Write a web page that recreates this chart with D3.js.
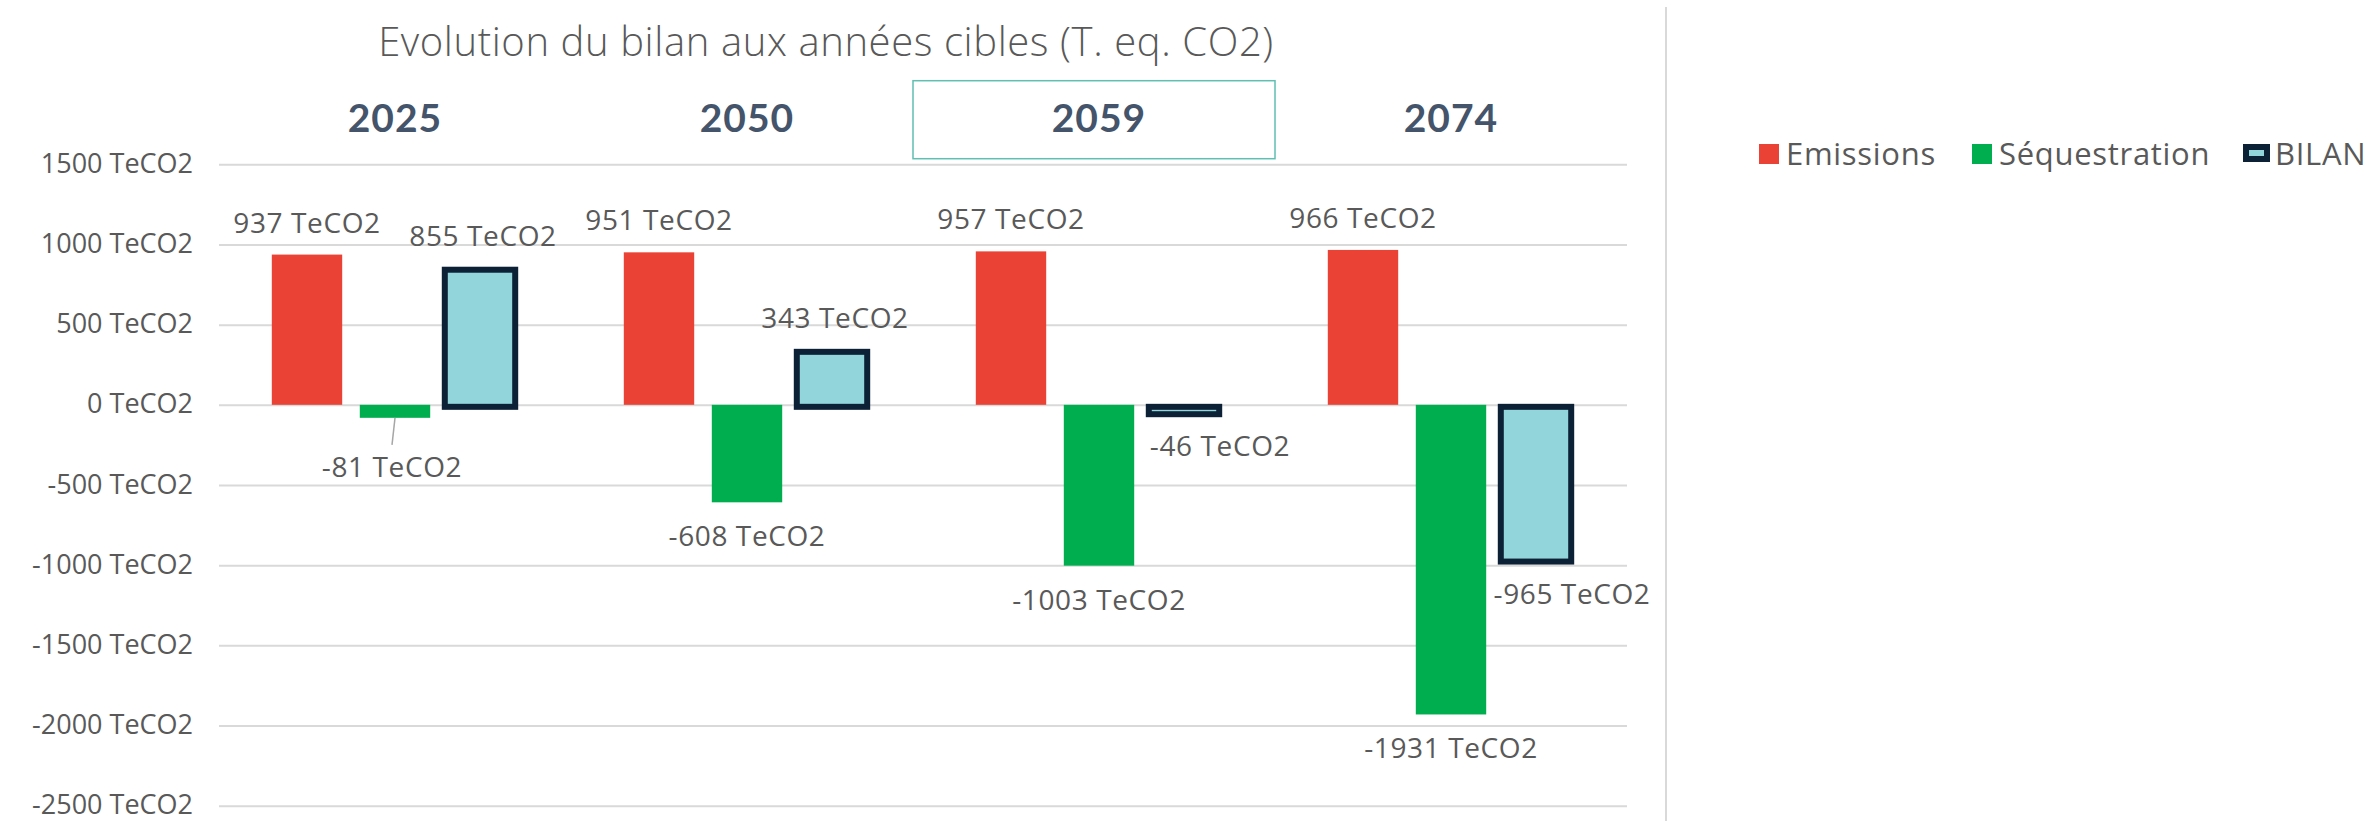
<!DOCTYPE html>
<html>
<head>
<meta charset="utf-8">
<script src="https://cdn.jsdelivr.net/npm/d3@7"></script>
<style>
  html, body { margin: 0; padding: 0; background: #ffffff; }
  svg { display: block; }
  text { font-family: "Open Sans", "Lato", sans-serif; }
</style>
</head>
<body>
<svg id="chart" width="2374" height="821"></svg>
<script>
// ---- Data ----
const years = ["2025", "2050", "2059", "2074"];
const seriesNames = ["Emissions", "Séquestration", "BILAN"];
const emissions = [937, 951, 957, 966];
const sequestration = [-81, -608, -1003, -1931];
const bilan = [855, 343, -46, -965];
const yTicks = [1500, 1000, 500, 0, -500, -1000, -1500, -2000, -2500];
const title = "Evolution du bilan aux années cibles (T. eq. CO2)";
const unit = "TeCO2";
const highlightedYear = "2059";

// ---- Styles ----
const colors = { "Emissions": "#ea4335", "Séquestration": "#00ad4f", "BILAN": "#92d6dc" };
const bilanStroke = "#0c2136";
const textGray = "#595959";
const yearColor = "#44546a";
const gridColor = "#d9d9d9";

const svg = d3.select("#chart");
svg.append("rect").attr("width", 2374).attr("height", 821).attr("fill", "#fff");

const margin = { left: 219, right: 1627, top: 164.3, bottom: 805.7 };

const y = d3.scaleLinear().domain([-2500, 1500]).range([margin.bottom, margin.top]);
const x0 = d3.scaleBand().domain(years).range([margin.left, margin.right]).paddingInner(0).paddingOuter(0);
const x1 = d3.scaleBand().domain(seriesNames).range([0, x0.bandwidth()]).paddingInner(0.2).paddingOuter(0.6);

// gridlines
const yAxis = d3.axisLeft(y).tickValues(yTicks)
  .tickSize(-(margin.right - margin.left))
  .tickFormat(d => d + " " + unit);
const gAxis = svg.append("g").attr("transform", `translate(${margin.left},0)`).call(yAxis);
gAxis.select(".domain").remove();
gAxis.selectAll(".tick line").attr("stroke", gridColor).attr("stroke-width", 2);
gAxis.selectAll(".tick text")
  .attr("x", -26)
  .attr("dy", "0.3em")
  .attr("fill", textGray)
  .style("font-size", "27px")
  .style("font-family", "'Open Sans', sans-serif");

// vertical separator
svg.append("line").attr("x1", 1666).attr("x2", 1666).attr("y1", 7).attr("y2", 821)
  .attr("stroke", gridColor).attr("stroke-width", 2);

// title
svg.append("text").attr("x", 826).attr("y", 56).attr("text-anchor", "middle")
  .attr("fill", textGray).style("font-size", "40px").style("font-weight", 300)
  .style("letter-spacing", "0.6px")
  .text(title);

// year labels
svg.selectAll("text.year").data(years).enter().append("text")
  .attr("class", "year")
  .attr("x", d => x0(d) + x0.bandwidth() / 2)
  .attr("y", 132)
  .attr("text-anchor", "middle")
  .attr("fill", yearColor)
  .style("font-size", "39px")
  .style("font-weight", 700)
  .style("letter-spacing", "1px")
  .style("font-family", "Lato, sans-serif")
  .text(d => d);

// highlight box around 2059
svg.append("rect")
  .attr("x", x0(highlightedYear) - 10)
  .attr("y", 80.7)
  .attr("width", x0.bandwidth() + 10)
  .attr("height", 78)
  .attr("fill", "none")
  .attr("stroke", "#5fbfb2")
  .attr("stroke-width", 1.5);

// data table
const rows = [];
years.forEach((yr, i) => {
  rows.push({ year: yr, series: "Emissions", value: emissions[i] });
  rows.push({ year: yr, series: "Séquestration", value: sequestration[i] });
  rows.push({ year: yr, series: "BILAN", value: bilan[i] });
});

const bars = svg.append("g");
bars.selectAll("rect").data(rows).enter().append("rect")
  .attr("x", d => x0(d.year) + x1(d.series) + (d.series === "BILAN" ? -3 : 0))
  .attr("y", d => Math.min(y(d.value), y(0)) + (d.series === "BILAN" ? 2 : 0))
  .attr("width", x1.bandwidth())
  .attr("height", d => Math.abs(y(d.value) - y(0)))
  .attr("fill", d => colors[d.series])
  .attr("stroke", d => d.series === "BILAN" ? bilanStroke : "none")
  .attr("stroke-width", d => d.series === "BILAN" ? 6 : 0);

// label nudges (layout only)
const nudge = { "2059|BILAN": { dx: 33, dy: 0 }, "2074|BILAN": { dx: 33, dy: 0 }, "2025|Séquestration": { dx: -3, dy: 15 } };

const labels = svg.append("g");
labels.selectAll("text").data(rows).enter().append("text")
  .attr("x", d => {
    const n = nudge[d.year + "|" + d.series] || { dx: 0 };
    return x0(d.year) + x1(d.series) + x1.bandwidth() / 2 + n.dx;
  })
  .attr("y", d => {
    const n = nudge[d.year + "|" + d.series] || { dy: 0 };
    return d.value >= 0 ? y(d.value) - 22 : y(d.value) + 44 + n.dy;
  })
  .attr("text-anchor", "middle")
  .attr("fill", textGray)
  .style("font-size", "28px")
  .style("letter-spacing", "0.6px")
  .text(d => d.value + " " + unit);

// leader line for -81
const lead = rows.find(d => d.year === "2025" && d.series === "Séquestration");
const lx = x0(lead.year) + x1(lead.series) + x1.bandwidth() / 2;
svg.append("line")
  .attr("x1", lx).attr("y1", y(lead.value))
  .attr("x2", lx - 3).attr("y2", y(lead.value) + 27)
  .attr("stroke", "#a6a6a6").attr("stroke-width", 1.5);

// legend
const legendItems = [
  { name: "Emissions", sx: 1759, tx: 1786 },
  { name: "Séquestration", sx: 1972, tx: 1999 },
  { name: "BILAN", sx: 2243, tx: 2275 }
];
const lg = svg.append("g");
legendItems.forEach(it => {
  if (it.name === "BILAN") {
    lg.append("rect").attr("x", it.sx + 3).attr("y", 147).attr("width", 21).attr("height", 12)
      .attr("fill", colors.BILAN).attr("stroke", bilanStroke).attr("stroke-width", 6);
  } else {
    lg.append("rect").attr("x", it.sx).attr("y", 144).attr("width", 20).attr("height", 20)
      .attr("fill", colors[it.name]);
  }
  lg.append("text").attr("x", it.tx).attr("y", 165).attr("fill", textGray)
    .style("font-size", "31px").style("letter-spacing", "0.7px").text(it.name);
});
</script>
</body>
</html>
